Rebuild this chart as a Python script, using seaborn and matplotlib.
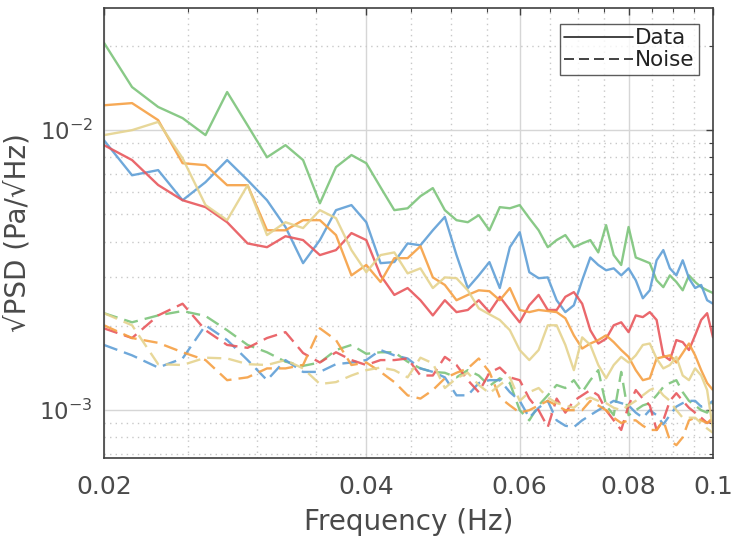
import numpy as np
import pandas as pd
import matplotlib
matplotlib.use("Agg")
import matplotlib.pyplot as plt
import matplotlib.ticker as mticker
from matplotlib.lines import Line2D
import seaborn as sns

freq = np.linspace(0.02, 0.1, 53)

green_data = [0.0205, 0.01425, 0.0121, 0.01104, 0.0096, 0.01368, 0.0104, 0.0080, 0.00884, 0.00782,
              0.00548, 0.00738, 0.00815, 0.00762, 0.00625, 0.00518, 0.00526, 0.00581, 0.00621, 0.00518,
              0.00477, 0.00469, 0.00497, 0.00439, 0.00531, 0.00526, 0.0054, 0.00485, 0.00439, 0.00382,
              0.00405, 0.00422, 0.00382, 0.00394, 0.00405, 0.00366, 0.00458, 0.00358, 0.0033, 0.00451,
              0.00351, 0.00343, 0.00335, 0.00291, 0.00275, 0.00303, 0.00287, 0.00268, 0.00303, 0.00287,
              0.00275, 0.00268, 0.00262]
blue_data = [0.0092, 0.0069, 0.0072, 0.00562, 0.00652, 0.00782, 0.00663, 0.00562, 0.00451, 0.00335,
             0.00405, 0.00518, 0.0054, 0.00469, 0.00335, 0.00338, 0.00394, 0.00388, 0.00439, 0.0049,
             0.00358, 0.00273, 0.00303, 0.00338, 0.00273, 0.00382, 0.00432, 0.00311, 0.00296, 0.00298,
             0.00247, 0.00224, 0.00237, 0.00291, 0.00351, 0.0033, 0.00316, 0.00321, 0.00303, 0.00321,
             0.00291, 0.00251, 0.00268, 0.00343, 0.00373, 0.00321, 0.00303, 0.00343, 0.00296, 0.00273,
             0.0028, 0.00247, 0.0024]
red_data = [0.00884, 0.00782, 0.00637, 0.00562, 0.00531, 0.00469, 0.00394, 0.00382, 0.00418, 0.00405,
            0.00358, 0.00373, 0.00429, 0.00405, 0.00303, 0.00258, 0.00273, 0.00247, 0.00218, 0.00247,
            0.00224, 0.00228, 0.00247, 0.00224, 0.00254, 0.00228, 0.00206, 0.00237, 0.00258, 0.00228,
            0.00228, 0.00254, 0.00264, 0.0024, 0.00193, 0.00173, 0.0018, 0.00201, 0.00206, 0.0019,
            0.00218, 0.00215, 0.00224, 0.0021, 0.00157, 0.00151, 0.00178, 0.00175, 0.00164, 0.00185,
            0.0021, 0.00222, 0.00182]
orange_data = [0.01227, 0.01249, 0.01086, 0.00762, 0.0075, 0.00636, 0.00636, 0.00439, 0.00439, 0.00477,
               0.00477, 0.00422, 0.00303, 0.0033, 0.00287, 0.00349, 0.00349, 0.00385, 0.00298, 0.0028,
               0.00247, 0.00258, 0.00268, 0.00266, 0.00247, 0.00273, 0.00228, 0.00224, 0.00228, 0.00226,
               0.00224, 0.00213, 0.00185, 0.00166, 0.00173, 0.00178, 0.00185, 0.00175, 0.00164, 0.00155,
               0.00139, 0.00128, 0.0013, 0.00153, 0.00155, 0.00157, 0.00148, 0.0016, 0.00173, 0.00157,
               0.00139, 0.00125, 0.00118]
yellow_data = [0.0096, 0.0100, 0.0107, 0.00794, 0.0054, 0.00477, 0.00636, 0.00422, 0.00469, 0.00447,
               0.00518, 0.00485, 0.00373, 0.00311, 0.00358, 0.00366, 0.00308, 0.00321, 0.00273, 0.00298,
               0.00296, 0.00268, 0.00231, 0.0022, 0.0021, 0.00193, 0.00164, 0.00151, 0.00164, 0.00201,
               0.00201, 0.00171, 0.00139, 0.00182, 0.00171, 0.00145, 0.0013, 0.00145, 0.00155, 0.00148,
               0.00157, 0.00171, 0.00173, 0.00153, 0.00141, 0.00145, 0.00155, 0.00133, 0.00128, 0.00141,
               0.00133, 0.00118, 0.00085]

green_noise = [0.00222, 0.00206, 0.00218, 0.00226, 0.00217, 0.00193, 0.00171, 0.00161, 0.00149, 0.00144,
               0.00148, 0.00164, 0.00171, 0.00159, 0.00161, 0.00161, 0.00149, 0.00141, 0.00137, 0.00136,
               0.00131, 0.00139, 0.00133, 0.00122, 0.0013, 0.00125, 0.0010, 0.00092, 0.00104, 0.00113,
               0.00123, 0.0012, 0.00128, 0.00116, 0.00128, 0.00139, 0.00104, 0.00096, 0.00137, 0.00096,
               0.0010, 0.00104, 0.00106, 0.00113, 0.00121, 0.00125, 0.00128, 0.00116, 0.00108, 0.00104,
               0.0010, 0.00098, 0.00106]
blue_noise = [0.00171, 0.00157, 0.00142, 0.00153, 0.00201, 0.00178, 0.00151, 0.00128, 0.00151, 0.00137,
              0.00137, 0.00146, 0.00148, 0.00151, 0.00164, 0.00157, 0.00153, 0.00141, 0.00137, 0.00131,
              0.00113, 0.00113, 0.00125, 0.00128, 0.00128, 0.00116, 0.00108, 0.00094, 0.00102, 0.00108,
              0.00092, 0.00088, 0.00087, 0.00092, 0.00096, 0.0010, 0.00104, 0.00108, 0.00106, 0.00104,
              0.00098, 0.00094, 0.0010, 0.00096, 0.00089, 0.00096, 0.00103, 0.00106, 0.00108, 0.00108,
              0.00103, 0.00104, 0.00108]
red_noise = [0.00196, 0.00181, 0.00218, 0.0024, 0.00193, 0.00171, 0.00167, 0.00181, 0.0019, 0.0016,
             0.00148, 0.00161, 0.00151, 0.00145, 0.00151, 0.00151, 0.00153, 0.00133, 0.00133, 0.00155,
             0.00145, 0.00128, 0.00116, 0.00136, 0.00142, 0.00131, 0.00128, 0.0011, 0.0010, 0.00087,
             0.0011, 0.00098, 0.00108, 0.00113, 0.00118, 0.00113, 0.0010, 0.00092, 0.00085, 0.00104,
             0.00118, 0.0011, 0.00104, 0.00085, 0.00092, 0.00108, 0.00115, 0.00108, 0.00102, 0.00098,
             0.00094, 0.0009, 0.00092]
orange_noise = [0.00201, 0.00181, 0.00174, 0.00161, 0.00151, 0.00128, 0.00131, 0.00141, 0.00141, 0.00145,
                0.00196, 0.00178, 0.00145, 0.00148, 0.00137, 0.00126, 0.00113, 0.0011, 0.00118, 0.0013,
                0.00136, 0.00141, 0.00153, 0.00137, 0.00111, 0.00104, 0.00098, 0.0010, 0.00104, 0.00108,
                0.00104, 0.0010, 0.0010, 0.0010, 0.00108, 0.00104, 0.0010, 0.00094, 0.0009, 0.00092,
                0.00092, 0.00088, 0.00085, 0.00085, 0.00092, 0.00078, 0.00075, 0.0008, 0.00092, 0.00094,
                0.00092, 0.0009, 0.00094]
yellow_noise = [0.00222, 0.00201, 0.00146, 0.00145, 0.00154, 0.00153, 0.00146, 0.00145, 0.00151, 0.00141,
                0.00124, 0.00126, 0.00133, 0.00139, 0.00142, 0.00139, 0.00131, 0.00154, 0.00147, 0.0012,
                0.0013, 0.00136, 0.00123, 0.00115, 0.00123, 0.00131, 0.00108, 0.00116, 0.0012, 0.00111,
                0.00106, 0.00104, 0.00102, 0.00108, 0.00111, 0.00108, 0.00106, 0.00102, 0.0010, 0.00104,
                0.00108, 0.00113, 0.00118, 0.00121, 0.00113, 0.00108, 0.0010, 0.00094, 0.00094, 0.00094,
                0.0009, 0.00086, 0.00083]

series_names = ["S1", "S2", "S3", "S4", "S5"]
series_colors = ["#7cc47a", "#5f9fd6", "#e8575c", "#f6a043", "#e5d38e"]
data_lists = [green_data, blue_data, red_data, orange_data, yellow_data]
noise_lists = [green_noise, blue_noise, red_noise, orange_noise, yellow_noise]

rows = []
for name, d, n in zip(series_names, data_lists, noise_lists):
    for f, v in zip(freq, d):
        rows.append((f, v, name, "Data"))
    for f, v in zip(freq, n):
        rows.append((f, v, name, "Noise"))
df = pd.DataFrame(rows, columns=["freq", "psd", "series", "kind"])

sns.set_theme(style="white")
plt.rcParams["font.family"] = ["DejaVu Sans"]

fig = plt.figure(figsize=(7.35, 5.37), dpi=100)
ax = fig.add_axes([104 / 735, 1 - 458 / 537, 609 / 735, 450 / 537])

sns.lineplot(data=df, x="freq", y="psd", hue="series", style="kind",
             palette=dict(zip(series_names, series_colors)),
             dashes={"Data": "", "Noise": (6, 3)},
             linewidth=1.7, alpha=0.9, legend=False, ax=ax, estimator=None,
             sort=False)

ax.set_xscale("log")
ax.set_yscale("log")
ax.set_xlim(0.02, 0.1)
ax.set_ylim(0.000675, 0.0273)

xmaj = [0.02, 0.04, 0.06, 0.08, 0.1]
xlabels = ["0.02", "0.04", "0.06", "0.08", "0.1"]
xminor = [0.025, 0.03, 0.035, 0.045, 0.05, 0.055, 0.065, 0.07, 0.075, 0.085, 0.09, 0.095]
ax.xaxis.set_major_locator(mticker.FixedLocator(xmaj))
ax.xaxis.set_major_formatter(mticker.FixedFormatter(xlabels))
ax.xaxis.set_minor_locator(mticker.FixedLocator(xminor))
ax.xaxis.set_minor_formatter(mticker.NullFormatter())
ax.yaxis.set_major_locator(mticker.LogLocator(base=10, numticks=10))
ax.yaxis.set_minor_locator(mticker.LogLocator(base=10, subs=np.arange(2, 10), numticks=20))
ax.yaxis.set_minor_formatter(mticker.NullFormatter())

ax.grid(True, which="major", color="#d6d6d6", linestyle="-", linewidth=1.0)
ax.grid(True, which="minor", color="#c8c8c8", linestyle=(0, (1, 3)), linewidth=1.0)
ax.set_axisbelow(True)

for s in ax.spines.values():
    s.set_color("#404040")
    s.set_linewidth(1.2)
    s.set_visible(True)

ax.tick_params(which="both", direction="in", top=True, right=True,
               color="#404040", labelcolor="#4a4a4a")
ax.tick_params(which="major", length=5, width=1.0)
ax.tick_params(axis="x", which="major", pad=12, labelsize=18)
ax.tick_params(axis="y", which="major", pad=8, labelsize=16.5)
ax.tick_params(which="minor", length=3, width=0.8)

ax.set_xlabel("Frequency (Hz)", fontsize=20, color="#4a4a4a", labelpad=7)
ax.set_ylabel("\u221aPSD (Pa/\u221aHz)", fontsize=20, color="#4a4a4a", labelpad=6)

handles = [Line2D([0], [0], color="#222222", lw=1.2, ls="-"),
           Line2D([0], [0], color="#222222", lw=1.2, ls=(0, (6, 3)))]
leg = ax.legend(handles, ["Data", "Noise"], loc="upper right", fontsize=15.5,
                frameon=True, fancybox=False, handlelength=3.2, handletextpad=0.1,
                borderpad=0.2, labelspacing=0.1, borderaxespad=0.0,
                bbox_to_anchor=(699 / 735, 1 - 24 / 537), bbox_transform=fig.transFigure)
leg.get_frame().set_edgecolor("#333333")
leg.get_frame().set_linewidth(1.0)
for t in leg.get_texts():
    t.set_color("#222222")

fig.savefig("out.png", dpi=100, facecolor="white")
